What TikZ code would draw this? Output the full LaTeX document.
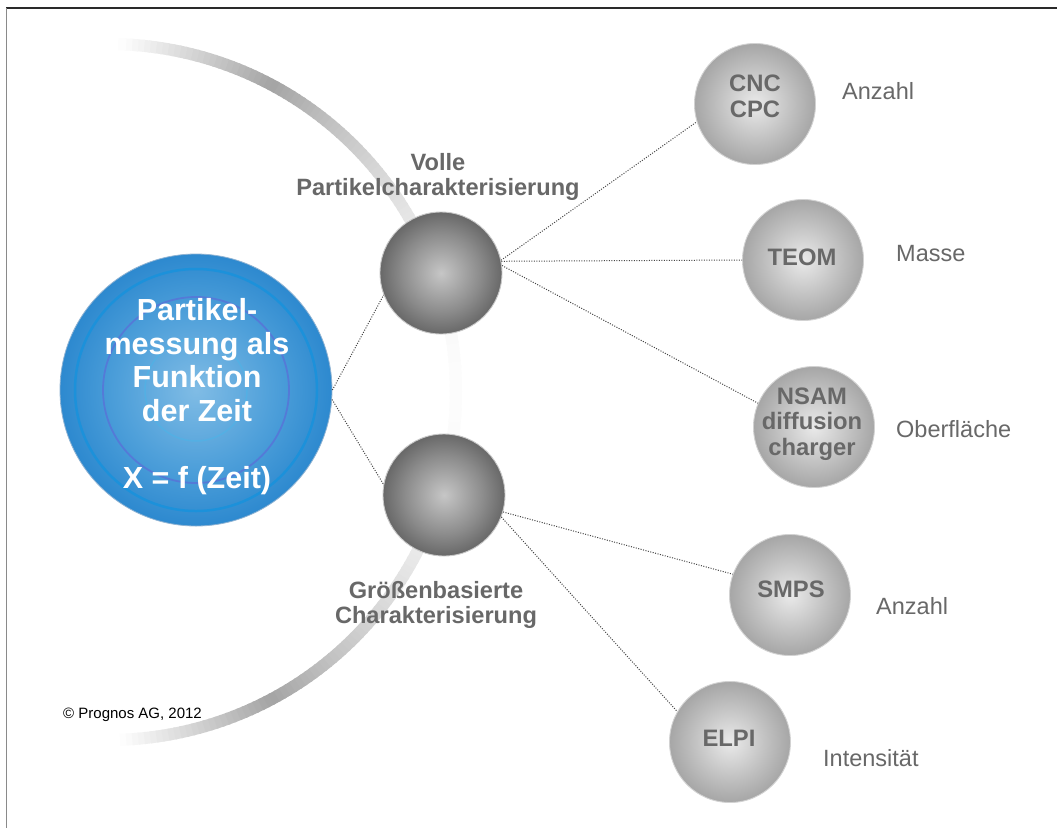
\documentclass[tikz,border=0pt]{standalone}
\usepackage{fontspec}
\setmainfont{Liberation Sans}
\definecolor{lblgray}{HTML}{686868}
\definecolor{arcgray}{HTML}{A4A4A4}
\definecolor{dsin}{HTML}{C6C6C6}
\definecolor{dsmid}{HTML}{8C8C8C}
\definecolor{dsout}{HTML}{686868}
\definecolor{lsin}{HTML}{EAEAEA}
\definecolor{lsmid}{HTML}{BEBEBE}
\definecolor{lsout}{HTML}{A6A6A6}
\definecolor{bin}{HTML}{80BCE5}
\definecolor{bmid}{HTML}{4FA0DA}
\definecolor{bout}{HTML}{2D89CF}
\definecolor{ringA}{HTML}{1C91DA}
\definecolor{ringB}{HTML}{5775D8}
\definecolor{ringC}{HTML}{4FB2E6}
\definecolor{dotgray}{HTML}{444444}
\definecolor{framedark}{HTML}{2A2A2A}
\definecolor{framegray}{HTML}{8A8A8A}
\definecolor{darkedge}{HTML}{C8C8C8}
\definecolor{lightedge}{HTML}{D2D2D2}
\definecolor{blueedge}{HTML}{8FB3D3}
\pgfdeclareradialshading{darksphere}{\pgfpointorigin}{color(0bp)=(dsin); color(16bp)=(dsmid); color(25bp)=(dsout); color(50bp)=(dsout)}
\pgfdeclareradialshading{lightsphere}{\pgfpointorigin}{color(0bp)=(lsin); color(16bp)=(lsmid); color(25bp)=(lsout); color(50bp)=(lsout)}
\pgfdeclareradialshading{blueshade}{\pgfpointorigin}{color(0bp)=(bin); color(14bp)=(bmid); color(25bp)=(bout); color(50bp)=(bout)}
\tikzset{
  blueball/.style={circle, minimum size=272pt, inner sep=0pt, shading=blueshade, draw=blueedge, line width=0.8pt},
  darkball/.style={circle, minimum size=122pt, inner sep=0pt, shading=darksphere, draw=darkedge, line width=0.9pt},
  lightball/.style={circle, minimum size=121pt, inner sep=0pt, shading=lightsphere, draw=lightedge, line width=0.9pt},
  conn/.style={draw=dotgray, line width=1pt, dash pattern=on 1pt off 1.5pt},
  bluetxt/.style={align=center, text=white, font=\fontsize{30.5}{33.5}\selectfont\bfseries, inner sep=0pt},
  grouplbl/.style={align=center, text=lblgray, font=\fontsize{23.6}{25}\selectfont\bfseries, inner sep=0pt},
  balltxt/.style={align=center, text=lblgray, font=\fontsize{23.8}{25.5}\selectfont\bfseries, inner sep=0pt},
  sidelbl/.style={anchor=base west, text=lblgray, font=\fontsize{23.5}{26}\selectfont, inner sep=0pt}
}
\begin{document}
\begin{tikzpicture}[x=1pt,y=-1pt]
\useasboundingbox (0,0) rectangle (1057,828);
\fill[white] (0,0) rectangle (1057,828);
% frame
\draw[framedark, line width=1.6pt] (6,8) -- (1057,8);
\draw[framegray, line width=1.8pt] (6.5,8) -- (6.5,828);
% shaded arc
\foreach \a in {-88,-87,...,87}{
  \pgfmathsetmacro\ta{abs(\a+0.5)}
  \pgfmathsetmacro\pc{\ta>62 ? 100*(88-\ta)/26 : 100*(0.03+0.97*(\ta/62)^1.9)}
  \draw[line width=12pt, arcgray!\pc!white]
    ({108+348*cos(\a)},{392-348*sin(\a)}) -- ({108+348*cos(\a+1.3)},{392-348*sin(\a+1.3)});
}
% central circle
\node[blueball] (blue) at (196,390) {};
\draw[ringA, line width=2.5pt] (blue.center) circle[radius=121];
\draw[ringB, line width=1.8pt, opacity=0.85] (blue.center) circle[radius=93];
\draw[ringC, line width=1.5pt, opacity=0.7] (blue.center) circle[radius=51];
\node[bluetxt, anchor=base] (bt) at (197,488) {Partikel-\\messung als\\Funktion\\der Zeit\\[33.5pt]X = f (Zeit)};
% group spheres
\node[darkball] (s1) at (441,273) {};
\node[darkball] (s2) at (444,495) {};
\node[grouplbl, anchor=base] (g1) at (438,195) {Volle\\Partikelcharakterisierung};
\node[grouplbl, anchor=base] (g2) at (436,623) {Größenbasierte\\Charakterisierung};
% instrument spheres
\node[lightball] (cnc) at (755,104) {};
\node[lightball] (teom) at (803,260) {};
\node[lightball] (nsam) at (814,427) {};
\node[lightball] (smps) at (790,595) {};
\node[lightball] (elpi) at (730,742) {};
\node[balltxt, anchor=base] (cnct) at (755,117) {CNC\\CPC};
\node[balltxt, anchor=base] (teomt) at (802,265) {TEOM};
\node[balltxt, anchor=base] (nsamt) at (812,455) {NSAM\\diffusion\\charger};
\node[balltxt, anchor=base] (smpst) at (791,597) {SMPS};
\node[balltxt, anchor=base] (elpit) at (729,746) {ELPI};
% side labels
\node[sidelbl] (l1) at (842,99) {Anzahl};
\node[sidelbl] (l2) at (896,261) {Masse};
\node[sidelbl] (l3) at (896,437) {Oberfläche};
\node[sidelbl] (l4) at (876,614) {Anzahl};
\node[sidelbl] (l5) at (823,766) {Intensität};
% connectors
\draw[conn] (blue.0) -- (s1.201);
\draw[conn] (blue.-4) -- (s2.170);
\draw[conn] (s1.12) -- (cnc.197);
\draw[conn] (s1.11) -- (teom.west);
\draw[conn] (s1.7) -- (nsam.157);
\draw[conn] (s2.-16) -- (smps.160);
\draw[conn] (s2.-21) -- (elpi.150);
% copyright
\node[anchor=base west, inner sep=0pt, font=\fontsize{15}{18}\selectfont] (copy) at (63,718) {© Prognos AG, 2012};
\end{tikzpicture}
\end{document}
